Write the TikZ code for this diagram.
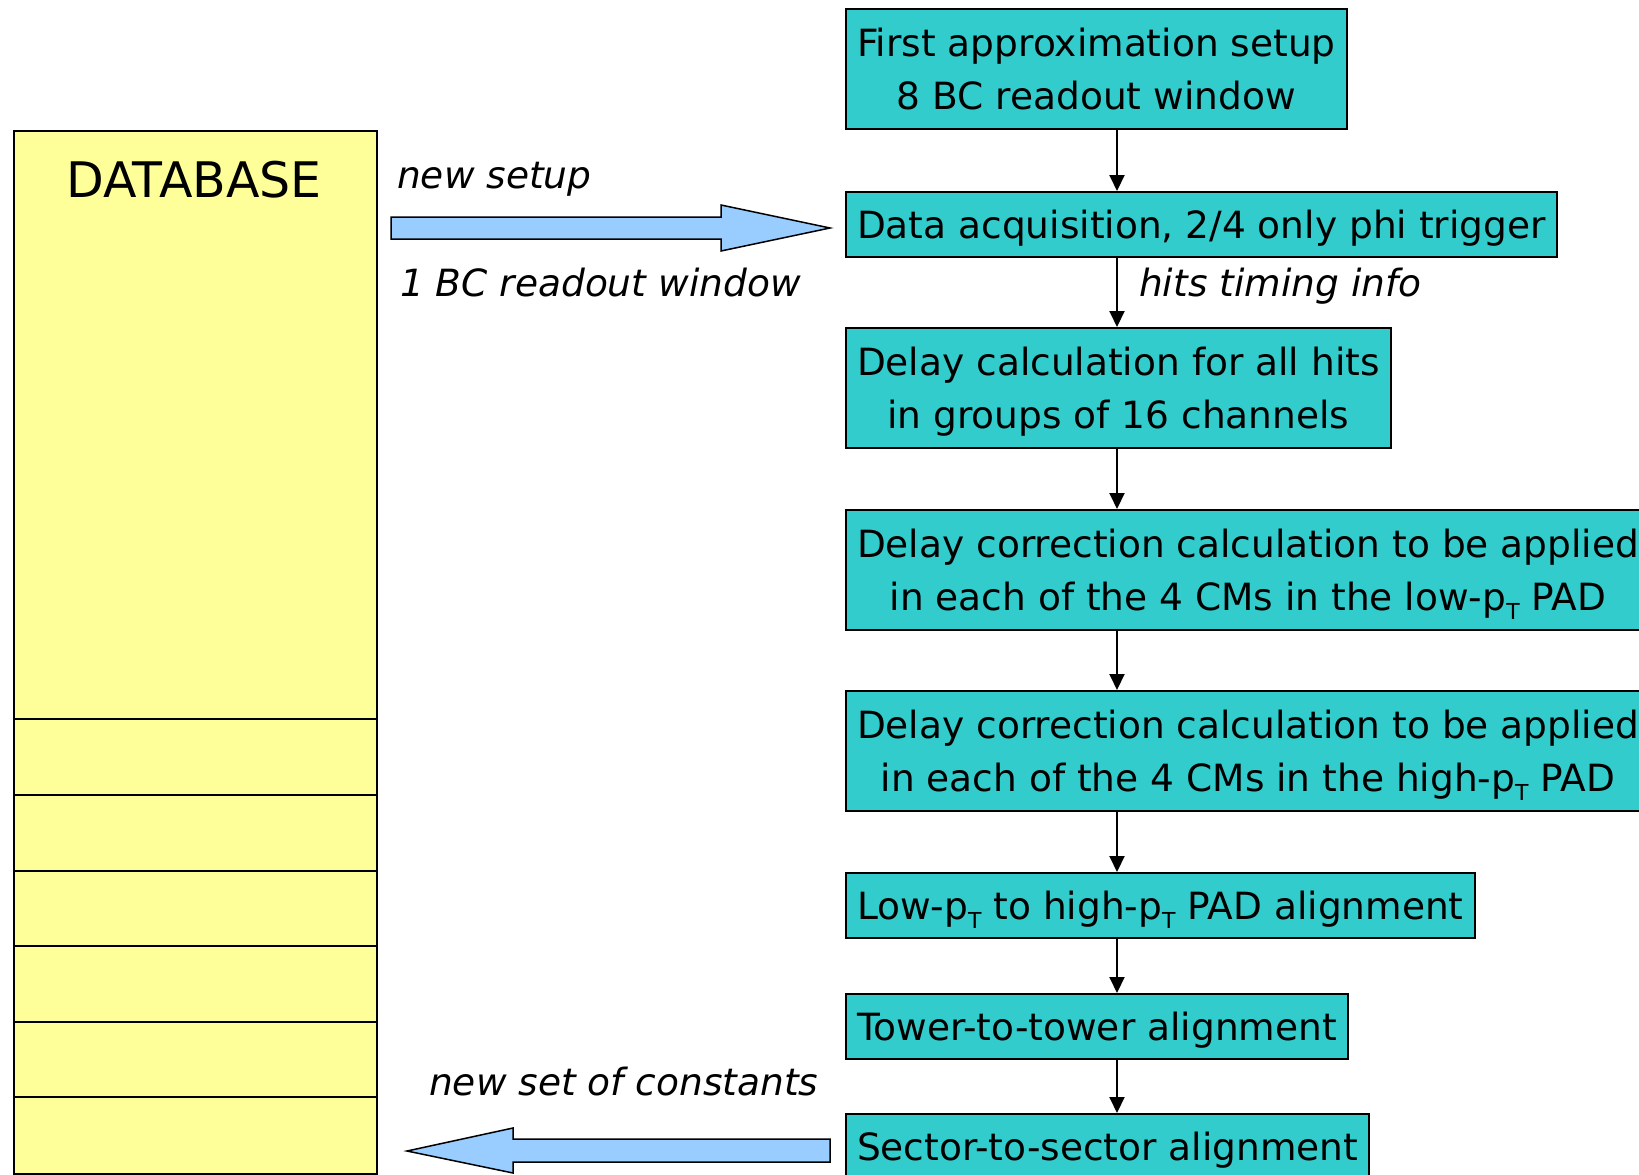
\documentclass[tikz,border=0pt]{standalone}
\usepackage{fontspec}
\setmainfont{DejaVu Sans}
\usepackage{tikz}
\usetikzlibrary{arrows.meta}
\definecolor{boxteal}{HTML}{33CCCC}
\definecolor{dbyellow}{HTML}{FFFF99}
\definecolor{arrowblue}{HTML}{99CCFF}
\newcommand{\pT}{p\smash{\raisebox{-9pt}{\fontsize{22}{22}\selectfont T}}}

\begin{document}
\begin{tikzpicture}[x=1pt, y=-1pt, >={Triangle[length=16pt, width=15pt]},
    flowbox/.style={draw, line width=2pt, fill=boxteal, anchor=north west, align=center,
        inner xsep=11pt, inner ysep=0pt, font=\fontsize{37.5}{53}\selectfont},
    oneline/.style={flowbox, minimum height=65pt, text height=28pt, text depth=0pt},
    twoline/.style={flowbox, minimum height=120pt, text height=81pt, text depth=0pt},
    note/.style={anchor=base west, inner sep=0pt, font=\fontsize{37.5}{37.5}\selectfont\itshape},
    bigarrow/.style={draw, line width=1.5pt, fill=arrowblue}]
    \useasboundingbox (0, 0) rectangle (1639, 1175);
    \clip (0, 0) rectangle (1639, 1175);
    % database column
    \node [draw, line width=2pt, fill=dbyellow, anchor=north west, inner sep=0pt,
        minimum width=363pt, minimum height=1043pt] (db) at (13, 130) {};
    \node [anchor=base, font=\fontsize{49}{49}\selectfont] (dbtitle) at (194, 197) {DATABASE};
    \draw [line width=2pt] (13, 719) -- (376, 719);
    \draw [line width=2pt] (13, 795) -- (376, 795);
    \draw [line width=2pt] (13, 871) -- (376, 871);
    \draw [line width=2pt] (13, 946) -- (376, 946);
    \draw [line width=2pt] (13, 1022) -- (376, 1022);
    \draw [line width=2pt] (13, 1097) -- (376, 1097);
    % steps
    \node [twoline] (first) at (845, 8) {First approximation setup\\8 BC readout window};
    \node [oneline] (daq) at (845, 191) {Data acquisition, 2/4 only phi trigger};
    \node [twoline] (delay) at (845, 327) {Delay calculation for all hits\\in groups of 16 channels};
    \node [twoline] (corrlow) at (845, 509) {Delay correction calculation to be applied\\in each of the 4 CMs in the low-\pT{} PAD};
    \node [twoline] (corrhigh) at (845, 690) {Delay correction calculation to be applied\\in each of the 4 CMs in the high-\pT{} PAD};
    \node [oneline] (pad) at (845, 872) {Low-\pT{} to high-\pT{} PAD alignment};
    \node [oneline] (tower) at (845, 993) {Tower-to-tower alignment};
    \node [oneline] (sector) at (845, 1113) {Sector-to-sector alignment};
    \coordinate (ax) at (1117, 0);
    \draw [->, line width=2pt] (first.south -| ax) -- (daq.north -| ax);
    \draw [->, line width=2pt] (daq.south -| ax) -- (delay.north -| ax);
    \draw [->, line width=2pt] (delay.south -| ax) -- (corrlow.north -| ax);
    \draw [->, line width=2pt] (corrlow.south -| ax) -- (corrhigh.north -| ax);
    \draw [->, line width=2pt] (corrhigh.south -| ax) -- (pad.north -| ax);
    \draw [->, line width=2pt] (pad.south -| ax) -- (tower.north -| ax);
    \draw [->, line width=2pt] (tower.south -| ax) -- (sector.north -| ax);
    % labels
    \node [note] (newsetup) at (397, 188) {new setup};
    \node [note] (readout) at (400, 296) {1 BC readout window};
    \node [note] (timing) at (1139, 296) {hits timing info};
    \node [note] (constants) at (429, 1095) {new set of constants};
    % block arrows
    \draw [bigarrow] (391, 217) -- (721, 217) -- (721, 205) -- (830, 228)
        -- (721, 251) -- (721, 239) -- (391, 239) -- cycle;
    \draw [bigarrow] (830, 1139) -- (513, 1139) -- (513, 1128) -- (407, 1151)
        -- (513, 1173) -- (513, 1162) -- (830, 1162) -- cycle;
\end{tikzpicture}
\end{document}
